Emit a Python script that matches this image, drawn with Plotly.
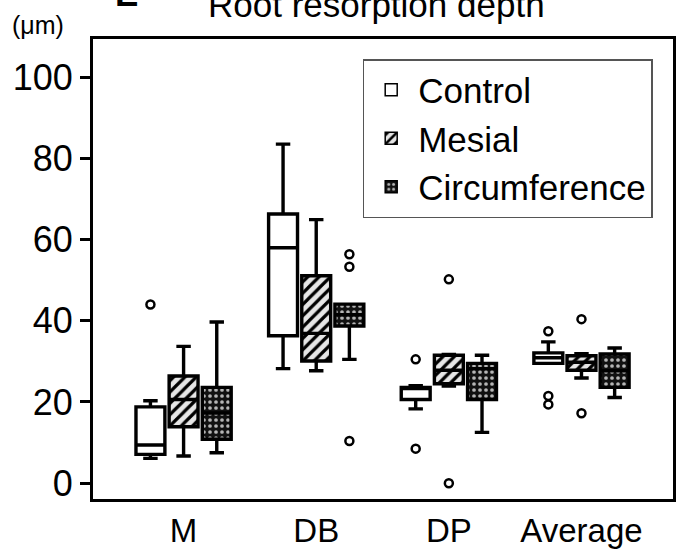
import plotly.graph_objects as go

# ---------------- data ----------------
categories = ["M", "DB", "DP", "Average"]
groups = ["Control", "Mesial", "Circumference"]

q1 = {
    "Control":       [7.1, 36.3, 20.6, 29.5],
    "Mesial":        [13.9, 30.1, 24.5, 27.8],
    "Circumference": [10.8, 38.7, 20.6, 23.6],
}
median = {
    "Control":       [9.4, 58.0, 23.3, 30.9],
    "Mesial":        [20.6, 36.9, 27.8, 29.8],
    "Circumference": [17.3, 41.5, 28.2, 27.7],
}
q3 = {
    "Control":       [18.8, 66.3, 23.6, 32.1],
    "Mesial":        [26.4, 51.1, 31.5, 31.4],
    "Circumference": [23.6, 44.1, 29.5, 31.8],
}
lowerfence = {
    "Control":       [6.1, 28.2, 18.3, 29.5],
    "Mesial":        [6.7, 27.7, 23.9, 25.9],
    "Circumference": [7.5, 30.5, 12.5, 21.1],
}
upperfence = {
    "Control":       [20.3, 83.5, 24.0, 34.8],
    "Mesial":        [33.7, 64.9, 31.7, 31.9],
    "Circumference": [39.7, 44.1, 31.5, 33.3],
}
# outliers: (category index, value)
outliers = {
    "Control":       [(0, 44.0), (2, 30.5), (2, 8.5), (3, 37.4), (3, 21.5), (3, 19.4)],
    "Mesial":        [(2, 50.2), (2, 0.0), (3, 40.4), (3, 17.2)],
    "Circumference": [(1, 56.4), (1, 53.3), (1, 10.4)],
}

# ---------------- styling ----------------
FONT = "Liberation Sans, Arial, sans-serif"
offsets = {"Control": -0.25, "Mesial": 0.0, "Circumference": 0.25}
BW = 0.218
patterns = {
    "Control": dict(shape="", bgcolor="white"),
    "Mesial": dict(shape="/", bgcolor="#e6e6e6", fgcolor="black", size=8, solidity=0.4, fillmode="replace"),
    "Circumference": dict(shape=".", bgcolor="#111111", fgcolor="#b5b5b5", size=6, solidity=0.3, fillmode="replace"),
}
base_colors = {"Control": "white", "Mesial": "#e6e6e6", "Circumference": "#111111"}

fig = go.Figure()

for g in groups:
    pos = [i + offsets[g] for i in range(len(categories))]
    heights = [b - a for a, b in zip(q1[g], q3[g])]
    fig.add_trace(go.Bar(
        x=pos, y=heights, base=q1[g], width=BW, name=g,
        marker=dict(color=base_colors[g], pattern=patterns[g],
                    line=dict(color="black", width=1.5)),
        showlegend=True, hoverinfo="skip",
    ))

for g in groups:
    pos = [i + offsets[g] for i in range(len(categories))]
    fig.add_trace(go.Box(
        x=pos, q1=q1[g], median=median[g], q3=q3[g],
        lowerfence=lowerfence[g], upperfence=upperfence[g],
        width=BW, whiskerwidth=0.5, boxpoints=False,
        fillcolor="rgba(0,0,0,0)", line=dict(color="black", width=3.4),
        showlegend=False, name=g,
    ))

for g in groups:
    xs = [c + offsets[g] for c, v in outliers[g]]
    ys = [v for c, v in outliers[g]]
    fig.add_trace(go.Scatter(
        x=xs, y=ys, mode="markers", showlegend=False,
        marker=dict(symbol="circle-open", size=8, color="black", line=dict(color="black", width=2.5)),
    ))

fig.update_layout(
    width=685, height=558,
    margin=dict(l=93, r=9, t=39, b=59),
    paper_bgcolor="white", plot_bgcolor="white",
    barmode="overlay", boxmode="overlay",
    font=dict(family=FONT, color="black"),
    legend=dict(
        x=0.465, y=0.9565, xanchor="left", yanchor="top",
        bordercolor="#555555", borderwidth=1.5, bgcolor="white",
        font=dict(size=35, family=FONT, color="black"),
        tracegroupgap=0, itemwidth=44,
    ),
    xaxis=dict(
        range=[-0.683, 3.69], tickvals=list(range(len(categories))), ticktext=categories,
        showline=True, mirror=True, linecolor="black", linewidth=3,
        ticks="", showgrid=False, zeroline=False,
        tickfont=dict(size=33, family=FONT, color="black"),
    ),
    yaxis=dict(
        range=[-3.9, 109.4], tickvals=[0, 20, 40, 60, 80, 100],
        showline=True, mirror=True, linecolor="black", linewidth=3,
        ticks="outside", ticklen=10, tickwidth=2.5, tickcolor="black",
        showgrid=False, zeroline=False,
        tickfont=dict(size=36, family=FONT, color="black"),
    ),
    annotations=[
        dict(text="Root resorption depth", xref="paper", yref="paper", x=0.489, y=1.076,
             xanchor="center", yanchor="middle", showarrow=False,
             font=dict(size=35, family=FONT, color="black")),
        dict(text="<b>E</b>", xref="paper", yref="paper", x=0.057, y=1.098,
             xanchor="center", yanchor="middle", showarrow=False,
             font=dict(size=35, family=FONT, color="black")),
        dict(text="(μm)", xref="paper", yref="paper", x=-0.094, y=1.03,
             xanchor="center", yanchor="middle", showarrow=False,
             font=dict(size=25, family=FONT, color="black")),
    ],
)

fig.write_html("out.html")
